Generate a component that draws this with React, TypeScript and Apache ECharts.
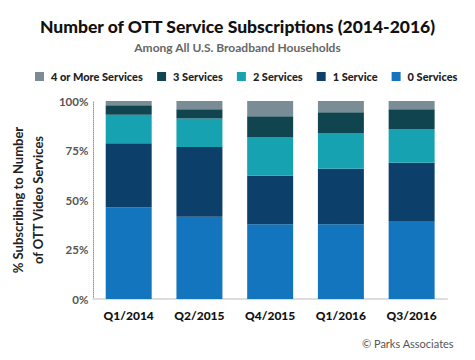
import React, { useEffect, useRef } from "react";
import * as echarts from "echarts";

const categories = ["Q1/2014", "Q2/2015", "Q4/2015", "Q1/2016", "Q3/2016"];
const zeroServices = [46.2, 41.5, 37.7, 37.7, 39.4];
const oneService = [32.5, 35.3, 24.6, 28.1, 29.4];
const twoServices = [14.4, 14.3, 19.3, 17.8, 17.0];
const threeServices = [4.7, 4.7, 10.7, 10.7, 10.0];
const fourPlusServices = [2.2, 4.2, 7.7, 5.7, 4.2];
const yTicks = [0, 25, 50, 75, 100];

const seriesDefs = [
  { name: "0 Services", data: zeroServices, color: "#1375bd" },
  { name: "1 Service", data: oneService, color: "#0d3f6b" },
  { name: "2 Services", data: twoServices, color: "#17a2b2" },
  { name: "3 Services", data: threeServices, color: "#10444f" },
  { name: "4 or More Services", data: fourPlusServices, color: "#7a8c96" },
];

const FONT = "Lato, 'Open Sans', sans-serif";

export default function App() {
  const ref = useRef<HTMLDivElement>(null);
  useEffect(() => {
    if (!ref.current) return;
    const chart = echarts.init(ref.current, null, { renderer: "svg" });
    chart.setOption({
      animation: false,
      textStyle: { fontFamily: FONT },
      title: [
        {
          text: "Number of OTT Service Subscriptions (2014-2016)",
          left: "center",
          top: 12,
          textStyle: { fontSize: 17.5, fontWeight: 900, color: "#111", fontFamily: FONT },
        },
        {
          text: "Among All U.S. Broadband Households",
          left: "center",
          top: 36,
          textStyle: { fontSize: 12, fontWeight: "bold", color: "#666", fontFamily: FONT },
        },
        {
          text: "© Parks Associates",
          right: 16,
          top: 333,
          textStyle: { fontSize: 11, fontWeight: "normal", color: "#555", fontFamily: FONT },
        },
      ],
      legend: {
        top: 66,
        left: 30,
        itemWidth: 9,
        itemHeight: 9,
        itemGap: 14,
        icon: "rect",
        data: ["4 or More Services", "3 Services", "2 Services", "1 Service", "0 Services"],
        textStyle: { fontSize: 11, fontWeight: 900, color: "#222", fontFamily: FONT, padding: [0, 0, 0, 2] },
      },
      grid: { left: 87, right: 28, top: 101, bottom: 61 },
      xAxis: {
        type: "category",
        data: categories,
        axisLine: { lineStyle: { color: "#dddddd", width: 2 } },
        axisTick: { show: false },
        axisLabel: { fontSize: 12, fontWeight: 900, color: "#111", margin: 10 },
      },
      yAxis: {
        type: "value",
        min: 0,
        max: 100,
        interval: 25,
        name: "% Subscribing to Number\nof OTT Video Services",
        nameLocation: "middle",
        nameGap: 37,
        nameTextStyle: { fontSize: 13, fontWeight: "bold", color: "#222", lineHeight: 20 },
        axisLine: { show: true, lineStyle: { color: "#999", type: "dotted", width: 1 } },
        axisTick: { show: false },
        splitLine: { show: false },
        axisLabel: {
          fontSize: 11.5,
          fontWeight: "bold",
          color: "#555",
          margin: 5,
          formatter: (v: number) => (yTicks.includes(v) ? v + "%" : ""),
        },
      },
      series: seriesDefs.map((s) => ({
        name: s.name,
        type: "bar",
        stack: "total",
        data: s.data,
        barWidth: "65%",
        itemStyle: { color: s.color },
      })),
    });
    return () => chart.dispose();
  }, []);
  return <div ref={ref} style={{ width: 475, height: 360, position: "absolute", left: 0, top: 0 }} />;
}
